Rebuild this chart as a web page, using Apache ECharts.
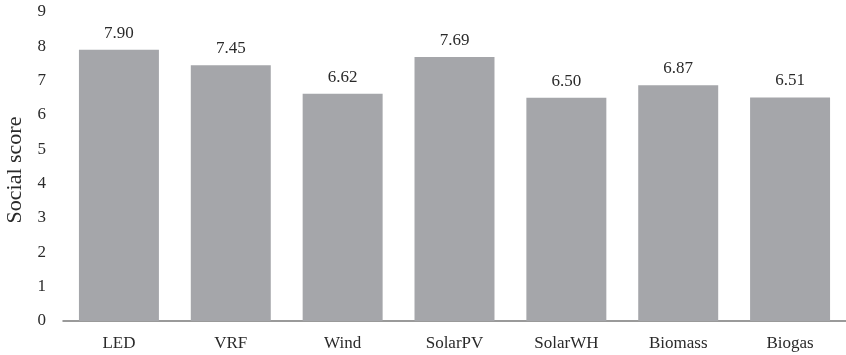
<!DOCTYPE html>
<html>
<head>
<meta charset="utf-8">
<style>
  html, body { margin: 0; padding: 0; background: #ffffff; }
  #chart { width: 846px; height: 355px; }
</style>
<script src="https://cdn.jsdelivr.net/npm/echarts@6/dist/echarts.min.js"></script>
</head>
<body>
<div id="chart"></div>
<script>
// Social score per technology
const categories = ['LED', 'VRF', 'Wind', 'SolarPV', 'SolarWH', 'Biomass', 'Biogas'];
const socialScores = [7.90, 7.45, 6.62, 7.69, 6.50, 6.87, 6.51];
const yTicks = [0, 1, 2, 3, 4, 5, 6, 7, 8, 9];

const serif = '"Liberation Serif", "DejaVu Serif", serif';
const chart = echarts.init(document.getElementById('chart'), null, { renderer: 'canvas' });

chart.setOption({
  animation: false,
  backgroundColor: '#ffffff',
  grid: { left: 63, right: 0, top: 12, bottom: 34, containLabel: false, outerBoundsMode: 'none' },
  xAxis: {
    type: 'category',
    data: categories,
    axisLine: { show: true, lineStyle: { color: '#7a7a7a', width: 1.5 } },
    axisTick: { show: false },
    axisLabel: { color: '#2a2a2a', fontFamily: serif, fontSize: 17, margin: 14 }
  },
  yAxis: {
    type: 'value',
    min: yTicks[0],
    max: yTicks[yTicks.length - 1],
    interval: 1,
    name: 'Social score',
    nameLocation: 'middle',
    nameGap: 35,
    nameRotate: 90,
    nameTextStyle: { color: '#2a2a2a', fontFamily: serif, fontSize: 22, padding: [0, 7, 0, 0] },
    axisLine: { show: false },
    axisTick: { show: false },
    splitLine: { show: false },
    axisLabel: { color: '#2a2a2a', fontFamily: serif, fontSize: 17, margin: 17 }
  },
  series: [{
    type: 'bar',
    data: socialScores,
    barCategoryGap: '28.5%',
    itemStyle: { color: '#a5a6aa' },
    label: {
      show: true,
      position: 'top',
      distance: 8,
      color: '#2a2a2a',
      fontFamily: serif,
      fontSize: 17,
      formatter: p => p.value.toFixed(2)
    }
  }]
});
</script>
</body>
</html>
